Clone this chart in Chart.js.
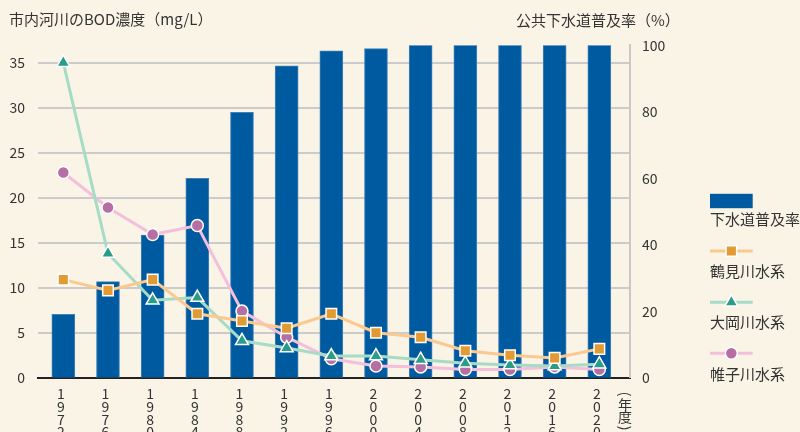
<!DOCTYPE html>
<html>
<head>
<meta charset="utf-8">
<script src="https://cdn.jsdelivr.net/npm/chart.js@4.4.1/dist/chart.umd.min.js"></script>
<style>
  html, body { margin: 0; padding: 0; background: #f9f4e6; }
  #wrap { width: 800px; height: 432px; position: relative; }
</style>
</head>
<body>
<div id="wrap"><canvas id="c" width="800" height="432"></canvas></div>
<script>
// ---- data ----
const years = ['1972','1976','1980','1984','1988','1992','1996','2000','2004','2008','2012','2016','2020'];
const sewerRate = [19.1, 28.9, 42.9, 60.0, 79.8, 93.8, 98.3, 99.0, 100, 100, 100, 100, 100];
const tsurumi  = [10.9, 9.7, 10.9, 7.1, 6.3, 5.5, 7.1, 5.0, 4.5, 3.0, 2.5, 2.2, 3.2];
const ooka     = [35.0, 13.8, 8.6, 8.9, 4.1, 3.3, 2.4, 2.4, 2.0, 1.6, 1.4, 1.3, 1.5];
const katabira = [22.8, 18.9, 15.9, 16.9, 7.4, 4.5, 2.1, 1.3, 1.2, 0.9, 0.9, 1.2, 0.9];
const bodTicks = [0, 5, 10, 15, 20, 25, 30, 35];
const rateTicks = [0, 20, 40, 60, 80, 100];

const leftTitle = '市内河川のBOD濃度（mg/L）';
const rightTitle = '公共下水道普及率（%）';
const yearUnit = ['(', '年', '度', ')'];
const seriesNames = ['下水道普及率', '鶴見川水系', '大岡川水系', '帷子川水系'];

const FONT = "'Noto Sans CJK JP', 'Noto Sans', sans-serif";
const TEXT = '#333333';
Chart.defaults.font.family = FONT;
Chart.defaults.color = TEXT;

const pts = arr => arr.map((v, i) => ({ x: i, y: v }));

const bg = {
  id: 'bg',
  beforeDraw(chart) {
    const ctx = chart.ctx;
    ctx.save();
    ctx.fillStyle = '#f9f4e6';
    ctx.fillRect(0, 0, chart.width, chart.height);
    ctx.restore();
  }
};

const decor = {
  id: 'decor',
  afterDraw(chart) {
    const ctx = chart.ctx;
    const ca = chart.chartArea;
    ctx.save();
    ctx.fillStyle = TEXT;
    ctx.font = '15px ' + FONT;
    ctx.textBaseline = 'middle';
    ctx.textAlign = 'left';
    ctx.fillText(leftTitle, 9, 19.5);
    ctx.fillText(rightTitle, 516, 20);

    // vertical (年度)
    ctx.font = '14px ' + FONT;
    ctx.textAlign = 'center';
    const vx = ca.right - 5;
    const vys = [394, 405, 417, 428];
    yearUnit.forEach((ch, k) => {
      ctx.save();
      ctx.translate(vx, vys[k]);
      if (ch === '(' || ch === ')') ctx.rotate(Math.PI / 2);
      ctx.fillText(ch, 0, 0);
      ctx.restore();
    });

    // legend (symbol above text)
    const lx = 710, lw = 42.7;
    const symY = [201, 251, 302.3, 353.3];
    const txtY = [219.5, 271, 322.5, 374];
    chart.data.datasets.forEach((ds, k) => {
      const y = symY[k];
      if (ds.type === 'bar') {
        ctx.fillStyle = ds.backgroundColor;
        ctx.fillRect(lx, y - 7.2, lw, 14.4);
      } else {
        ctx.strokeStyle = ds.borderColor;
        ctx.lineWidth = ds.borderWidth;
        ctx.beginPath();
        ctx.moveTo(lx, y);
        ctx.lineTo(lx + lw, y);
        ctx.stroke();
        ctx.fillStyle = ds.pointBackgroundColor;
        ctx.strokeStyle = ds.pointBorderColor;
        ctx.lineWidth = ds.pointBorderWidth;
        Chart.helpers.drawPoint(ctx, {
          pointStyle: ds.pointStyle, rotation: 0,
          radius: ds.pointRadius, borderWidth: ds.pointBorderWidth
        }, lx + lw / 2, y);
      }
      ctx.fillStyle = TEXT;
      ctx.font = '15px ' + FONT;
      ctx.textAlign = 'left';
      ctx.textBaseline = 'middle';
      ctx.fillText(seriesNames[k], lx, txtY[k]);
    });
    ctx.restore();
  }
};

new Chart(document.getElementById('c'), {
  data: {
    datasets: [
      {
        type: 'bar', label: seriesNames[0], data: pts(sewerRate), yAxisID: 'y1',
        backgroundColor: '#005aa0', borderColor: '#3f80ba', borderWidth: 1,
        borderSkipped: 'bottom', barThickness: 23, order: 10
      },
      {
        type: 'line', label: seriesNames[1], data: pts(tsurumi), yAxisID: 'y',
        borderColor: '#fbc98f', borderWidth: 3, pointStyle: 'rect', pointRadius: 7.5,
        pointBackgroundColor: '#e29b33', pointBorderColor: '#ffffff', pointBorderWidth: 1.5,
        order: 1
      },
      {
        type: 'line', label: seriesNames[2], data: pts(ooka), yAxisID: 'y',
        borderColor: '#a6dcc6', borderWidth: 3, pointStyle: 'triangle', pointRadius: 7.5,
        pointBackgroundColor: '#2a9d89', pointBorderColor: '#ffffff', pointBorderWidth: 1.5,
        order: 2
      },
      {
        type: 'line', label: seriesNames[3], data: pts(katabira), yAxisID: 'y',
        borderColor: '#f5bedc', borderWidth: 3, pointStyle: 'circle', pointRadius: 6,
        pointBackgroundColor: '#b66fa5', pointBorderColor: '#ffffff', pointBorderWidth: 1.5,
        order: 3
      }
    ]
  },
  options: {
    responsive: false,
    animation: false,
    layout: { padding: { top: 45.3, left: 0, right: 0, bottom: 0 } },
    plugins: { legend: { display: false }, tooltip: { enabled: false } },
    scales: {
      x: {
        type: 'linear', min: -0.578, max: 12.687, offset: false,
        afterBuildTicks: s => { s.ticks = years.map((_, i) => ({ value: i })); },
        afterFit: s => { s.height = 54.3; },
        grid: { display: false, drawTicks: false, offset: false },
        border: { display: true, color: '#222222', width: 2 },
        ticks: {
          autoSkip: false, maxRotation: 0, minRotation: 0, padding: 10, labelOffset: -2.5,
          color: TEXT, font: { size: 14, lineHeight: 0.9 },
          callback: v => (years[v] !== undefined ? years[v].split('') : '')
        }
      },
      y: {
        position: 'left', min: 0, max: 36.93,
        afterBuildTicks: s => { s.ticks = bodTicks.map(v => ({ value: v })); },
        afterFit: s => { s.width = 37.5; },
        grid: { color: '#cbcbcb', lineWidth: 2, drawTicks: false },
        border: { display: false },
        ticks: { padding: 12.5, color: TEXT, font: { size: 14 } }
      },
      y1: {
        position: 'right', min: 0, max: 100,
        afterBuildTicks: s => { s.ticks = rateTicks.map(v => ({ value: v })); },
        afterFit: s => { s.width = 170; },
        grid: { display: false, drawTicks: false, drawOnChartArea: false },
        border: { display: true, color: '#c8c8c8', width: 2 },
        ticks: { padding: 12, color: TEXT, font: { size: 14 } }
      }
    }
  },
  plugins: [bg, decor]
});
</script>
</body>
</html>
